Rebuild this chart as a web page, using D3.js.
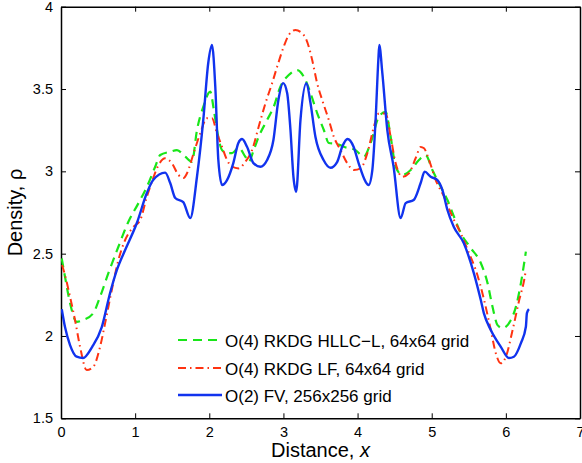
<!DOCTYPE html>
<html>
<head>
<meta charset="utf-8">
<script src="https://d3js.org/d3.v7.min.js"></script>
<style>
  body { margin: 0; background: #fff; }
  text { font-family: "Liberation Sans", Arial, Helvetica, sans-serif; fill: #000; }
</style>
</head>
<body>
<script>
// tick labels
var xTicks = [0, 1, 2, 3, 4, 5, 6, 7];
var yTicks = [1.5, 2, 2.5, 3, 3.5, 4];

// O(4) RKDG HLLC-L, 64x64 grid
var hllcX = [0.01,0.054,0.122,0.212,0.301,0.436,0.527,0.639,0.774,0.909,1.045,1.158,1.27,1.338,1.473,1.564,1.676,1.766,1.834,1.919,2.014,2.058,2.104,2.172,2.239,2.307,2.396,2.486,2.531,2.599,2.666,2.78,2.869,2.959,3.072,3.185,3.297,3.365,3.455,3.545,3.612,3.726,3.815,3.973,4.085,4.176,4.288,4.378,4.446,4.514,4.604,4.716,4.828,4.919,5.009,5.122,5.212,5.301,5.392,5.527,5.662,5.753,5.82,5.888,5.955,6.068,6.135,6.203,6.247,6.27];
var hllcY = [2.471,2.36,2.2,2.086,2.097,2.139,2.238,2.382,2.542,2.694,2.807,2.906,3.028,3.099,3.119,3.129,3.089,3.058,3.251,3.392,3.484,3.383,3.251,3.129,3.111,3.111,3.142,3.089,3.058,3.129,3.21,3.312,3.392,3.514,3.585,3.615,3.555,3.476,3.354,3.251,3.172,3.166,3.149,3.129,3.089,3.172,3.332,3.362,3.21,3.028,2.978,3.008,3.069,3.099,3.008,2.906,2.826,2.724,2.625,2.534,2.443,2.321,2.177,2.066,2.048,2.097,2.177,2.321,2.443,2.512];

// O(4) RKDG LF, 64x64 grid
var lfX = [0.014,0.054,0.122,0.189,0.257,0.347,0.436,0.527,0.595,0.685,0.774,0.865,0.977,1.068,1.158,1.226,1.315,1.405,1.496,1.585,1.653,1.699,1.788,1.878,1.969,2.036,2.104,2.172,2.239,2.307,2.396,2.486,2.577,2.666,2.757,2.847,2.915,3.004,3.072,3.162,3.274,3.342,3.388,3.455,3.523,3.612,3.68,3.77,3.861,3.95,4.041,4.131,4.22,4.288,4.378,4.446,4.514,4.604,4.693,4.784,4.851,4.896,4.964,5.054,5.166,5.28,5.392,5.504,5.595,5.707,5.797,5.865,5.932,6.0,6.091,6.18,6.247,6.27];
var lfY = [2.431,2.37,2.238,2.097,1.934,1.793,1.813,1.934,2.078,2.279,2.461,2.583,2.663,2.704,2.846,2.937,3.038,3.079,3.049,2.978,2.96,2.988,3.109,3.231,3.322,3.322,3.231,3.149,3.069,3.028,3.018,3.058,3.129,3.271,3.413,3.535,3.635,3.757,3.828,3.858,3.828,3.757,3.676,3.535,3.433,3.312,3.21,3.129,3.049,3.008,3.018,3.109,3.271,3.352,3.352,3.21,3.049,2.967,2.988,3.081,3.148,3.14,3.069,2.947,2.846,2.724,2.623,2.502,2.4,2.218,2.036,1.894,1.834,1.874,2.036,2.218,2.34,2.4];

// O(2) FV, 256x256 grid
var fvX = [0.01,0.054,0.122,0.212,0.297,0.419,0.55,0.662,0.753,0.865,1.023,1.158,1.243,1.405,1.473,1.541,1.649,1.743,1.834,1.919,1.986,2.036,2.081,2.122,2.172,2.239,2.324,2.392,2.442,2.509,2.595,2.689,2.78,2.865,2.932,2.996,3.05,3.095,3.135,3.172,3.23,3.311,3.365,3.432,3.541,3.635,3.726,3.793,3.865,3.946,4.014,4.108,4.149,4.199,4.243,4.28,4.293,4.334,4.401,4.486,4.581,4.649,4.757,4.851,4.905,4.986,5.077,5.145,5.212,5.297,5.432,5.568,5.662,5.703,5.797,5.932,6.041,6.108,6.203,6.27,6.284,6.311];
var fvY = [2.163,2.054,1.945,1.874,1.866,1.933,2.054,2.261,2.4,2.522,2.686,2.868,2.947,2.992,2.929,2.838,2.813,2.716,2.967,3.312,3.658,3.767,3.514,3.069,2.917,2.947,3.05,3.172,3.196,3.149,3.05,3.028,3.069,3.19,3.433,3.536,3.476,3.251,2.967,2.876,3.312,3.536,3.415,3.208,3.069,3.022,3.058,3.149,3.196,3.149,3.05,2.937,2.917,3.008,3.312,3.676,3.767,3.597,3.251,3.028,2.716,2.807,2.826,2.929,2.998,2.967,2.947,2.886,2.765,2.663,2.564,2.382,2.218,2.139,2.036,1.934,1.866,1.874,1.957,2.056,2.139,2.163];

var seriesNames = ["O(4) RKDG HLLC\u2212L, 64x64 grid", "O(4) RKDG LF, 64x64 grid", "O(2) FV, 256x256 grid"];

var width = 582, height = 463;
var plotL = 61, plotR = 580, plotT = 6.7, plotB = 418.3;

var svg = d3.select("body").append("svg")
    .attr("width", width)
    .attr("height", height);

var xScale = d3.scaleLinear().domain([0, 7]).range([plotL, plotR]);
var yScale = d3.scaleLinear().domain([1.5, 4]).range([plotB, plotT]);

// box axes with inward ticks
var tl = 5;
svg.append("g").attr("transform", "translate(0," + plotB + ")")
    .call(d3.axisBottom(xScale).tickValues(xTicks).tickSizeInner(-tl).tickSizeOuter(0).tickPadding(8).tickFormat(d3.format("d")));
svg.append("g").attr("transform", "translate(0," + plotT + ")")
    .call(d3.axisTop(xScale).tickValues(xTicks).tickSizeInner(-tl).tickSizeOuter(0).tickFormat(""));
svg.append("g").attr("transform", "translate(" + plotL + ",0)")
    .call(d3.axisLeft(yScale).tickValues(yTicks).tickSizeInner(-tl).tickSizeOuter(0).tickPadding(8).tickFormat(function(d) { return d; }));
svg.append("g").attr("transform", "translate(" + plotR + ",0)")
    .call(d3.axisRight(yScale).tickValues(yTicks).tickSizeInner(-tl).tickSizeOuter(0).tickFormat(""));

svg.selectAll(".domain").attr("stroke", "#000").attr("stroke-width", 1.5);
svg.selectAll(".tick line").attr("stroke", "#000").attr("stroke-width", 1);
svg.selectAll(".tick text").style("font-size", "14.5px").attr("fill", "#000");

// curves
var line = d3.line()
    .x(function(d) { return xScale(d[0]); })
    .y(function(d) { return yScale(d[1]); })
    .curve(d3.curveMonotoneX);

svg.append("clipPath").attr("id", "plot")
    .append("rect").attr("x", plotL).attr("y", plotT).attr("width", plotR - plotL).attr("height", plotB - plotT);

var styles = [
    { color: "#19e619", dash: "9,6", w: 2.2 },
    { color: "#ff3311", dash: "8,4,1.5,4", w: 2 },
    { color: "#1133ee", dash: null, w: 2.4 }
];
var allSeries = [d3.zip(hllcX, hllcY), d3.zip(lfX, lfY), d3.zip(fvX, fvY)];

var plot = svg.append("g").attr("clip-path", "url(#plot)");
allSeries.forEach(function(s, i) {
    plot.append("path")
        .datum(s)
        .attr("d", line)
        .attr("fill", "none")
        .attr("stroke", styles[i].color)
        .attr("stroke-width", styles[i].w)
        .attr("stroke-dasharray", styles[i].dash);
});

// legend
var legY = [340, 368, 395];
seriesNames.forEach(function(name, i) {
    svg.append("line")
        .attr("x1", 178).attr("x2", 222)
        .attr("y1", legY[i]).attr("y2", legY[i])
        .attr("stroke", styles[i].color)
        .attr("stroke-width", styles[i].w)
        .attr("stroke-dasharray", styles[i].dash);
    svg.append("text")
        .attr("x", 225).attr("y", legY[i] + 6.5)
        .style("font-size", "17px")
        .text(name);
});

// axis labels
var xl = svg.append("text")
    .attr("x", (plotL + plotR) / 2).attr("y", 456.5)
    .attr("text-anchor", "middle")
    .style("font-size", "20px");
xl.append("tspan").text("Distance, ");
xl.append("tspan").style("font-style", "italic").text("x");

svg.append("text")
    .attr("transform", "translate(22," + ((plotT + plotB) / 2) + ") rotate(-90)")
    .attr("text-anchor", "middle")
    .style("font-size", "20px")
    .text("Density, \u03c1");
</script>
</body>
</html>
